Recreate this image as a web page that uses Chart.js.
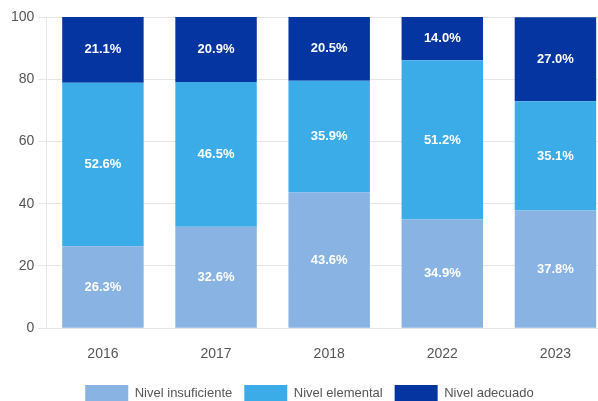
<!DOCTYPE html>
<html>
<head>
<meta charset="utf-8">
<script src="https://cdn.jsdelivr.net/npm/chart.js@4.4.1/dist/chart.umd.min.js"></script>
<style>
  html, body { margin: 0; padding: 0; background: #fff; overflow: hidden; }
  #wrap { width: 612px; height: 411px; }
</style>
</head>
<body>
<div id="wrap"><canvas id="c" width="612" height="411"></canvas></div>
<script>
// ===== Niveles de desempeño por año =====
const YEARS = ['2016', '2017', '2018', '2022', '2023'];
const INSUFICIENTE = [26.3, 32.6, 43.6, 34.9, 37.8];
const ELEMENTAL = [52.6, 46.5, 35.9, 51.2, 35.1];
const ADECUADO = [21.1, 20.9, 20.5, 14.0, 27.0];
const Y_TICKS = [0, 20, 40, 60, 80, 100];

const FONT = '"Liberation Sans Narrow", "Liberation Sans", Arial, sans-serif';

// labels in the middle of each segment
const barLabels = {
    id: 'barLabels',
    afterDatasetsDraw(chart) {
        const ctx = chart.ctx;
        ctx.save();
        ctx.fillStyle = '#ffffff';
        ctx.font = 'bold 13px ' + FONT;
        ctx.textAlign = 'center';
        ctx.textBaseline = 'middle';
        chart.data.datasets.forEach((ds, i) => {
            chart.getDatasetMeta(i).data.forEach((bar, j) => {
                const mid = (bar.y + bar.base) / 2;
                ctx.fillText(ds.data[j].toFixed(1) + '%', bar.x, mid);
            });
        });
        ctx.restore();
    }
};

new Chart(document.getElementById('c').getContext('2d'), {
    type: 'bar',
    data: {
        labels: YEARS,
        datasets: [
            { label: 'Nivel insuficiente', data: INSUFICIENTE, backgroundColor: '#88b3e3', borderWidth: 0 },
            { label: 'Nivel elemental', data: ELEMENTAL, backgroundColor: '#3cace8', borderWidth: 0 },
            { label: 'Nivel adecuado', data: ADECUADO, backgroundColor: '#0535a0', borderWidth: 0 }
        ]
    },
    options: {
        responsive: false, animation: false,
        layout: { padding: { left: 7, right: 0, top: 17, bottom: 0 } },
        datasets: { bar: { categoryPercentage: 0.72, barPercentage: 1 } },
        scales: {
            x: { stacked: true, grid: { display: false }, border: { display: false },
                ticks: { color: '#555', font: { family: FONT, size: 14 }, padding: 10 } },
            y: { stacked: true, min: 0, max: 100,
                afterBuildTicks: s => { s.ticks = Y_TICKS.map(v => ({ value: v })); },
                grid: { color: '#e6e6e6', tickLength: 8 },
                border: { color: '#e6e6e6' },
                ticks: { color: '#555', font: { family: FONT, size: 14 }, padding: 4 } }
        },
        plugins: {
            legend: { position: 'bottom',
                labels: { boxWidth: 43, boxHeight: 16, padding: 12, color: '#555', font: { family: FONT, size: 13 } } },
            tooltip: { enabled: false }
        }
    },
    plugins: [barLabels]
});
</script>
</body>
</html>
